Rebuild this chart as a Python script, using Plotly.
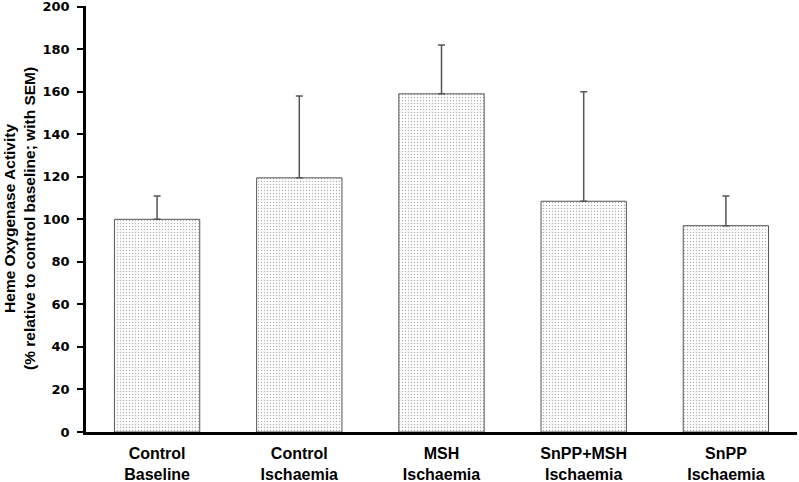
import plotly.graph_objects as go

categories = ["Control<br>Baseline", "Control<br>Ischaemia", "MSH<br>Ischaemia",
              "SnPP+MSH<br>Ischaemia", "SnPP<br>Ischaemia"]
values = [100, 119.5, 159, 108.5, 97]
sem = [11, 38.5, 23, 51.5, 14]
zeros = [0, 0, 0, 0, 0]
y_ticks = [0, 20, 40, 60, 80, 100, 120, 140, 160, 180, 200]
y_title = "Heme Oxygenase Activity<br>(% relative to control baseline; with SEM)"

font_family = "Liberation Sans, Arial, sans-serif"
tick_family = "DejaVu Sans, Liberation Sans, sans-serif"

L, R, T, B = 86, 2, 6, 50

fig = go.Figure()
fig.add_trace(go.Bar(
    x=categories, y=values, width=0.6,
    marker=dict(
        color="white",
        line=dict(color="#555555", width=1),
        pattern=dict(shape=".", fgcolor="#666666", bgcolor="white", size=3, solidity=0.18),
    ),
    error_y=dict(type="data", symmetric=False, array=sem, arrayminus=zeros,
                 color="#555555", thickness=1.5, width=3.5),
))

fig.update_layout(
    width=799, height=482,
    margin=dict(l=L, r=R, t=T, b=B),
    paper_bgcolor="white", plot_bgcolor="white",
    showlegend=False,
    font=dict(family=font_family, size=16, color="black"),
    annotations=[dict(
        text=y_title, textangle=-90,
        xref="paper", yref="paper",
        x=(19 - L) / (799 - L - R), y=0.5,
        xanchor="center", yanchor="middle", showarrow=False,
        font=dict(family=font_family, size=15.5, color="black", weight="bold"),
    )],
)
fig.update_xaxes(
    showline=True, linecolor="black", linewidth=2.5,
    ticks="", showgrid=False, zeroline=False, automargin=False,
    tickfont=dict(family=font_family, size=16, color="black", weight="bold"),
    ticklabelstandoff=5, ticklabeloverflow="allow",
    range=[-0.5, 4.5],
)
fig.update_yaxes(
    range=[0, 200.3], tickvals=y_ticks,
    showline=True, linecolor="black", linewidth=2.5,
    ticks="outside", ticklen=6, tickwidth=2, tickcolor="black",
    showgrid=False, zeroline=False, automargin=False,
    ticklabelstandoff=5, ticklabeloverflow="allow",
    tickfont=dict(family=tick_family, size=13, color="black", weight="bold"),
)

fig.write_html(
    "out.html",
    config={"displayModeBar": False},
    post_script="document.body.style.margin='0px';document.body.style.overflow='hidden';",
)
